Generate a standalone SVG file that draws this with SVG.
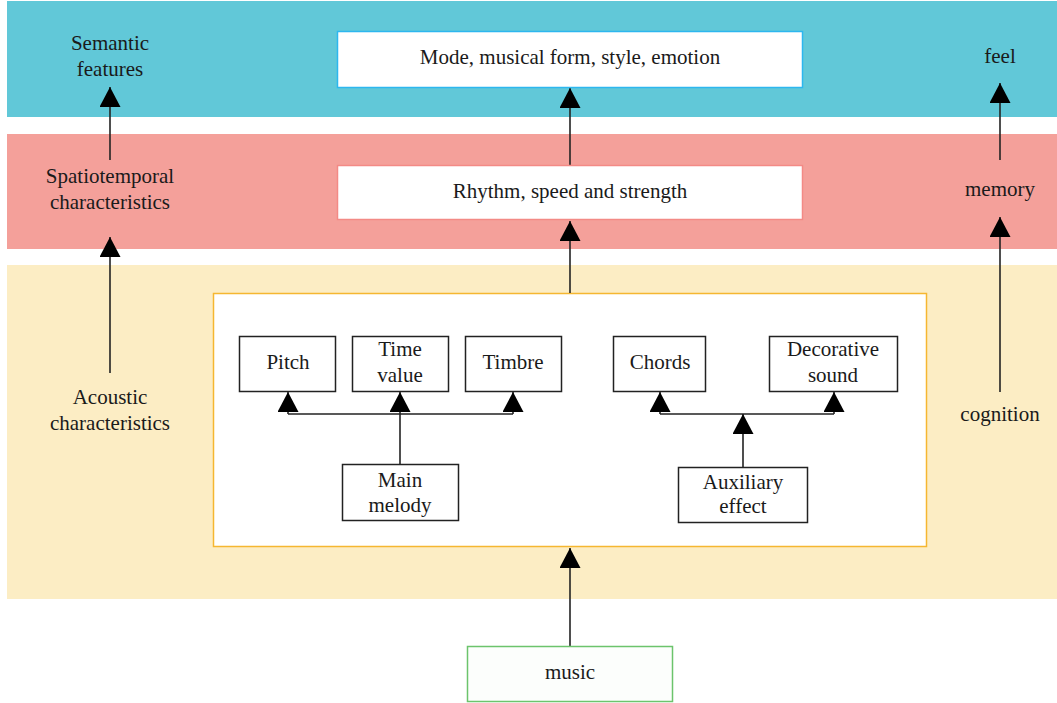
<svg xmlns="http://www.w3.org/2000/svg" width="1057" height="703" viewBox="0 0 1057 703">
<style>
text{font-family:"Liberation Serif","DejaVu Serif",serif;font-size:21px;fill:#1a1a1a;text-anchor:middle;dominant-baseline:central}
.box{fill:#fff;stroke:#222;stroke-width:1.5}
.ln{stroke:#222;stroke-width:1.6;fill:none}
</style>
<defs>
<marker id="ah" markerUnits="userSpaceOnUse" markerWidth="21" markerHeight="21" refX="20" refY="10.5" orient="auto" viewBox="0 0 21 21">
<path d="M0,0 L20,10.5 L0,21 z" fill="#000"/>
</marker>
</defs>
<rect width="1057" height="703" fill="#fff"/>
<g id="bands">
<rect x="7" y="1" width="1050" height="116" fill="#61c8d8"/>
<rect x="7" y="134" width="1050" height="115" fill="#f4a09a"/>
<rect x="7" y="265" width="1050" height="334" fill="#fcedc4"/>
</g>
<g id="container">
<rect x="213.5" y="293.5" width="713" height="253" fill="#fff" stroke="#f5b731" stroke-width="1.5"/>
</g>
<g id="connectors" class="ln">
<line x1="570" y1="165" x2="570" y2="88" marker-end="url(#ah)"/>
<line x1="570" y1="293" x2="570" y2="221" marker-end="url(#ah)"/>
<line x1="570" y1="646" x2="570" y2="548" marker-end="url(#ah)"/>
<line x1="110" y1="160" x2="110" y2="87" marker-end="url(#ah)"/>
<line x1="110" y1="373" x2="110" y2="237" marker-end="url(#ah)"/>
<line x1="1000" y1="160" x2="1000" y2="83" marker-end="url(#ah)"/>
<line x1="1000" y1="392" x2="1000" y2="217" marker-end="url(#ah)"/>
<polyline points="288,414 513,414"/>
<line x1="288" y1="414" x2="288" y2="392" marker-end="url(#ah)"/>
<line x1="513" y1="414" x2="513" y2="392" marker-end="url(#ah)"/>
<line x1="400" y1="464" x2="400" y2="392" marker-end="url(#ah)"/>
<polyline points="660,414 834,414"/>
<line x1="660" y1="414" x2="660" y2="392" marker-end="url(#ah)"/>
<line x1="834" y1="414" x2="834" y2="392" marker-end="url(#ah)"/>
<line x1="743" y1="467" x2="743" y2="414" marker-end="url(#ah)"/>
</g>
<g id="semantic"><text x="110" y="43">Semantic</text><text x="110" y="69">features</text></g>
<g id="spatiotemporal"><text x="110" y="176">Spatiotemporal</text><text x="110" y="202">characteristics</text></g>
<g id="acoustic"><text x="110" y="397">Acoustic</text><text x="110" y="423">characteristics</text></g>
<g id="feel"><text x="1000" y="56">feel</text></g>
<g id="memory"><text x="1000" y="189">memory</text></g>
<g id="cognition"><text x="1000" y="414">cognition</text></g>
<g id="mode"><rect x="337.5" y="31.5" width="465" height="56" fill="#fff" stroke="#2db7ef" stroke-width="1.5"/><text x="570" y="57">Mode, musical form, style, emotion</text></g>
<g id="rhythm"><rect x="337.5" y="165.5" width="465" height="54" fill="#fff" stroke="#f38a86" stroke-width="1.5"/><text x="570" y="191">Rhythm, speed and strength</text></g>
<g id="pitch"><rect class="box" x="239.5" y="336.5" width="96" height="55"/><text x="288" y="362">Pitch</text></g>
<g id="timevalue"><rect class="box" x="352.5" y="336.5" width="96" height="55"/><text x="400" y="349">Time</text><text x="400" y="375">value</text></g>
<g id="timbre"><rect class="box" x="465.5" y="336.5" width="96" height="55"/><text x="513" y="362">Timbre</text></g>
<g id="mainmelody"><rect class="box" x="342.5" y="464.5" width="116" height="56"/><text x="400" y="480">Main</text><text x="400" y="505">melody</text></g>
<g id="chords"><rect class="box" x="613.5" y="336.5" width="92" height="55"/><text x="660" y="362">Chords</text></g>
<g id="decorative"><rect class="box" x="769.5" y="336.5" width="128" height="55"/><text x="833" y="349">Decorative</text><text x="833" y="375">sound</text></g>
<g id="auxiliary"><rect class="box" x="678.5" y="467.5" width="129" height="55"/><text x="743" y="482">Auxiliary</text><text x="743" y="506">effect</text></g>
<g id="music"><rect x="467.5" y="646.5" width="205" height="55" fill="#fcfefc" stroke="#6cc46c" stroke-width="1.5"/><text x="570" y="672">music</text></g>
</svg>
